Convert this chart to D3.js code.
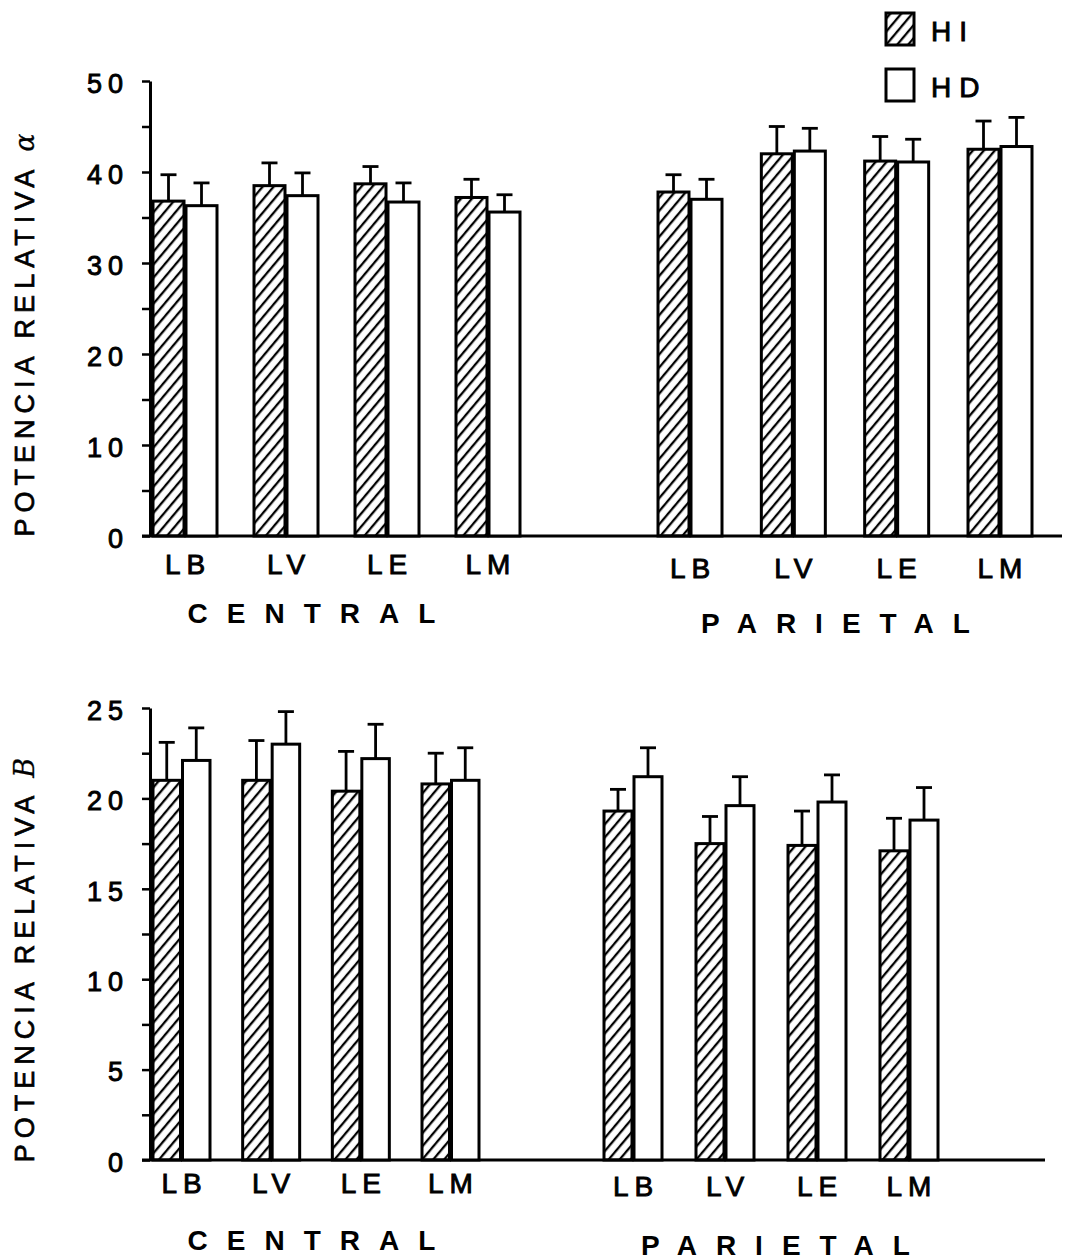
<!DOCTYPE html>
<html>
<head>
<meta charset="utf-8">
<script src="https://cdn.jsdelivr.net/npm/d3@7"></script>
<style>
  html, body { margin: 0; padding: 0; background: #fff; }
  svg { display: block; }
  text { font-family: "Liberation Sans", Arial, sans-serif; fill: #000; }
</style>
</head>
<body>
<svg id="fig" width="1066" height="1260"></svg>
<script>
// ---- data -------------------------------------------------------------
const categories = ["LB", "LV", "LE", "LM"];
const regions = ["CENTRAL", "PARIETAL"];
const seriesNames = ["HI", "HD"];

// relative alpha power (mean and SD) per region and hemisphere
const alphaCentralHI   = [36.8, 38.5, 38.7, 37.2];
const alphaCentralHIsd = [2.9, 2.5, 1.9, 2.0];
const alphaCentralHD   = [36.3, 37.4, 36.7, 35.6];
const alphaCentralHDsd = [2.5, 2.5, 2.1, 1.9];
const alphaParietalHI   = [37.8, 42.0, 41.2, 42.5];
const alphaParietalHIsd = [1.9, 3.0, 2.7, 3.1];
const alphaParietalHD   = [37.0, 42.3, 41.1, 42.8];
const alphaParietalHDsd = [2.2, 2.5, 2.5, 3.2];

// relative beta power (mean and SD)
const betaCentralHI   = [21.0, 21.0, 20.4, 20.8];
const betaCentralHIsd = [2.1, 2.2, 2.2, 1.7];
const betaCentralHD   = [22.1, 23.0, 22.2, 21.0];
const betaCentralHDsd = [1.8, 1.8, 1.9, 1.8];
const betaParietalHI   = [19.3, 17.5, 17.4, 17.1];
const betaParietalHIsd = [1.2, 1.5, 1.9, 1.8];
const betaParietalHD   = [21.2, 19.6, 19.8, 18.8];
const betaParietalHDsd = [1.6, 1.6, 1.5, 1.8];

const alphaTicks = [0, 5, 10, 15, 20, 25, 30, 35, 40, 45, 50];
const alphaTickLabels = ["0", "", "10", "", "20", "", "30", "", "40", "", "50"];
const betaTicks = [0, 2.5, 5, 7.5, 10, 12.5, 15, 17.5, 20, 22.5, 25];
const betaTickLabels = ["0", "", "5", "", "10", "", "15", "", "20", "", "25"];

// ---- drawing ----------------------------------------------------------
const svg = d3.select("#fig");

// diagonal hatch for the HI bars
const defs = svg.append("defs");
defs.append("pattern")
  .attr("id", "hatch")
  .attr("patternUnits", "userSpaceOnUse")
  .attr("width", 8.4).attr("height", 20)
  .attr("patternTransform", "rotate(40)")
  .append("line")
  .attr("x1", 2).attr("y1", -2).attr("x2", 2).attr("y2", 22)
  .attr("stroke", "#000").attr("stroke-width", 2.3);

function drawPanel(p) {
  const g = svg.append("g");
  const y = d3.scaleLinear().domain(p.domain).range([p.y0, p.y1]);

  // y axis
  const axis = d3.axisLeft(y)
    .tickValues(p.ticks)
    .tickFormat((d, i) => p.tickLabels[i])
    .tickSize(8)
    .tickPadding(13)
    .tickSizeOuter(0);
  const ag = g.append("g").attr("transform", `translate(${p.xAxis},0)`).call(axis);
  ag.select(".domain").attr("stroke", "#000").attr("stroke-width", 3);
  ag.selectAll(".tick line").attr("stroke", "#000").attr("stroke-width", 2.5);
  ag.selectAll(".tick text")
    .attr("font-size", 27)
    .attr("font-family", "Liberation Sans, Arial, sans-serif")
    .attr("dy", "0.42em")
    .style("letter-spacing", "6px")
    .attr("stroke", "#000").attr("stroke-width", 0.9);

  // baseline
  g.append("line")
    .attr("x1", p.xAxis - 8).attr("x2", p.xEnd)
    .attr("y1", y(0)).attr("y2", y(0))
    .attr("stroke", "#000").attr("stroke-width", 3);

  p.groups.forEach(grp => {
    const n = categories.length;
    const step = (grp.range[1] - grp.range[0] - grp.pair) / (n - 1);
    const x = d3.scaleBand().domain(categories)
      .range(grp.range).paddingInner(1 - grp.pair / step).paddingOuter(0);
    const xs = d3.scaleBand().domain(seriesNames).range([0, x.bandwidth()]).padding(0);

    const rows = [];
    categories.forEach((c, i) => {
      seriesNames.forEach((s, k) => {
        rows.push({ cat: c, ser: s, v: grp.values[k][i], sd: grp.sds[k][i] });
      });
    });

    const bw = xs.bandwidth();
    // error bars (upper only)
    const eb = g.append("g");
    rows.forEach(r => {
      const cx = x(r.cat) + xs(r.ser) + bw / 2;
      eb.append("line").attr("x1", cx).attr("x2", cx)
        .attr("y1", y(r.v)).attr("y2", y(r.v + r.sd))
        .attr("stroke", "#000").attr("stroke-width", 2.8);
      eb.append("line").attr("x1", cx - 8).attr("x2", cx + 8)
        .attr("y1", y(r.v + r.sd)).attr("y2", y(r.v + r.sd))
        .attr("stroke", "#000").attr("stroke-width", 2.8);
    });

    // bars
    g.append("g").selectAll("rect").data(rows).join("rect")
      .attr("x", r => x(r.cat) + xs(r.ser) + 1)
      .attr("width", bw - 2)
      .attr("y", r => y(r.v))
      .attr("height", r => y(0) - y(r.v))
      .attr("fill", r => r.ser === "HI" ? "url(#hatch)" : "#fff")
      .attr("stroke", "#000").attr("stroke-width", 3);

    // category labels
    g.append("g").selectAll("text").data(categories).join("text")
      .attr("x", c => x(c) + x.bandwidth() / 2 + 3)
      .attr("y", grp.labelY)
      .attr("text-anchor", "middle")
      .attr("font-size", 28)
      .attr("stroke", "#000").attr("stroke-width", 0.9)
      .style("letter-spacing", "6px")
      .text(c => c);

    // region title
    g.append("text")
      .attr("x", grp.titleX + 10)
      .attr("y", grp.titleY)
      .attr("text-anchor", "middle")
      .attr("font-size", 28)
      .attr("font-weight", "bold")
      .style("letter-spacing", "19px")
      .text(grp.title);
  });

  // y-axis title
  const t = g.append("text")
    .attr("transform", `translate(${p.titleX},${p.titleY}) rotate(-90)`)
    .attr("text-anchor", "middle")
    .attr("font-size", 27)
    .attr("stroke", "#000").attr("stroke-width", 0.7)
    .style("letter-spacing", "6px");
  t.append("tspan").text("POTENCIA RELATIVA ");
  t.append("tspan")
    .attr("font-family", "DejaVu Serif, serif")
    .attr("font-style", "italic")
    .attr("stroke-width", 0.3)
    .text(p.symbol);
}

drawPanel({
  domain: [0, 50], y0: 536, y1: 81, xAxis: 150, xEnd: 1062,
  ticks: alphaTicks, tickLabels: alphaTickLabels,
  titleX: 34, titleY: 332, symbol: "α",
  groups: [
    { title: regions[0], range: [152, 521], pair: 66, labelY: 574, titleX: 311, titleY: 623,
      values: [alphaCentralHI, alphaCentralHD], sds: [alphaCentralHIsd, alphaCentralHDsd] },
    { title: regions[1], range: [657, 1033], pair: 66, labelY: 578, titleX: 835, titleY: 633,
      values: [alphaParietalHI, alphaParietalHD], sds: [alphaParietalHIsd, alphaParietalHDsd] }
  ]
});

drawPanel({
  domain: [0, 25], y0: 1160, y1: 708, xAxis: 150, xEnd: 1045,
  ticks: betaTicks, tickLabels: betaTickLabels,
  titleX: 34, titleY: 957, symbol: "B",
  groups: [
    { title: regions[0], range: [152, 480], pair: 59, labelY: 1193, titleX: 311, titleY: 1250,
      values: [betaCentralHI, betaCentralHD], sds: [betaCentralHIsd, betaCentralHDsd] },
    { title: regions[1], range: [603, 939], pair: 60, labelY: 1196, titleX: 775, titleY: 1255,
      values: [betaParietalHI, betaParietalHD], sds: [betaParietalHIsd, betaParietalHDsd] }
  ]
});

// legend
const legend = svg.append("g");
seriesNames.forEach((s, i) => {
  const ly = 13 + i * 56;
  legend.append("rect")
    .attr("x", 886).attr("y", ly).attr("width", 28).attr("height", 32)
    .attr("fill", s === "HI" ? "url(#hatch)" : "#fff")
    .attr("stroke", "#000").attr("stroke-width", 3);
  legend.append("text")
    .attr("x", 931).attr("y", ly + 28)
    .attr("font-size", 28)
    .attr("stroke", "#000").attr("stroke-width", 0.9)
    .style("letter-spacing", "8px")
    .text(s);
});
</script>
</body>
</html>
